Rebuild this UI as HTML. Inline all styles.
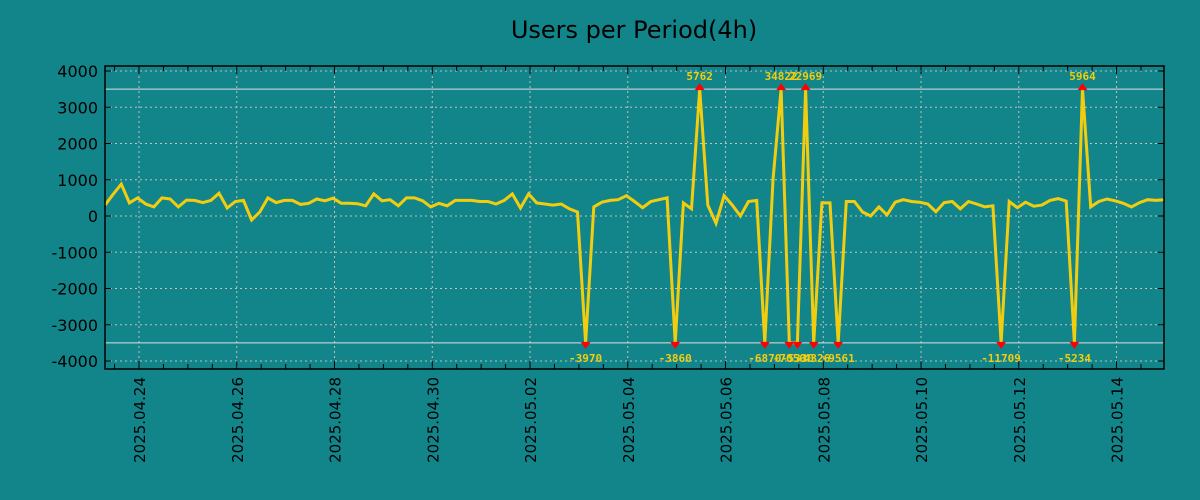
<!DOCTYPE html>
<html><head><meta charset="utf-8"><style>
html,body{margin:0;padding:0;background:#12858a;}
svg{display:block;font-family:"DejaVu Sans","Liberation Sans",sans-serif;}
</style></head><body>
<svg id="chart" width="1200" height="500">
<rect width="1200" height="500" fill="#12858a"/>
<text x="634" y="38" text-anchor="middle" font-size="24" fill="#000">Users per Period(4h)</text>
<g id="grid"></g><g id="series"></g><g id="axes"></g>
</svg>
<script>
const values=[300,600,880,360,500,330,250,500,470,250,440,430,370,430,630,220,400,430,-110,110,500,370,430,430,320,350,470,420,490,350,350,340,280,610,420,450,280,500,500,420,250,350,280,430,430,430,400,400,330,430,610,220,610,360,330,300,330,200,110,-3970,250,380,430,450,560,400,230,400,450,500,-3860,360,200,5762,300,-200,560,300,0,400,430,-6870,1000,34822,-7050,-5330,22969,-4326,360,360,-9561,400,400,110,0,250,30,380,450,400,380,330,120,370,400,200,400,330,250,280,-11709,400,230,380,270,300,430,480,410,-5234,5964,250,400,470,420,350,250,370,450,430,450];
const yTicks=[-4000,-3000,-2000,-1000,0,1000,2000,3000,4000];
const xTickLabels=["2025.04.24","2025.04.26","2025.04.28","2025.04.30","2025.05.02","2025.05.04","2025.05.06","2025.05.08","2025.05.10","2025.05.12","2025.05.14"];
const clipLimit=3500;
const startOffsetHours=16.7;
const periodHours=4;

const L=105,R=1164,T=66,B=369;
const NS="http://www.w3.org/2000/svg";
const step=(R-L)/(values.length-1);
function xScale(i){return L+i*step;}
function yScale(v){return 216-v*0.03625;}
function xOfHours(h){return xScale((h+startOffsetHours)/periodHours);}
function mk(tag,attrs,parent){const e=document.createElementNS(NS,tag);for(const k in attrs)e.setAttribute(k,attrs[k]);parent.appendChild(e);return e;}
const grid=document.getElementById('grid'),axes=document.getElementById('axes'),ser=document.getElementById('series');

yTicks.forEach(v=>{
  const y=yScale(v);
  const g=mk('line',{x1:L,x2:R,y1:y,y2:y,stroke:'#c0c0c0','stroke-dasharray':'2,3','stroke-width':1},grid);
  
  
  const t1=mk('line',{x1:L,x2:L+6,y1:y,y2:y,stroke:'#000'},axes);
  
  
  const t2=mk('line',{x1:R-6,x2:R,y1:y,y2:y,stroke:'#000'},axes);
  
  
  const lb=mk('text',{x:98,y:y+6,'text-anchor':'end','font-size':16,fill:'#000'},axes);
  lb.textContent=v;
  
  
});
for(let h=-12;h<=22*24;h+=12){
  const x=xOfHours(h); if(x<L||x>R)continue;
  const major=(h%48===0&&h>=0);
  const len=major?8:5;
  const a=mk('line',{x1:x,x2:x,y1:T,y2:T+len,stroke:'#000'},axes);
  
  
  const b=mk('line',{x1:x,x2:x,y1:B-len,y2:B,stroke:'#000'},axes);
  
  
}
xTickLabels.forEach((lab,k)=>{
  const x=xOfHours(k*48);
  const g=mk('line',{x1:x,x2:x,y1:T,y2:B,stroke:'#c0c0c0','stroke-dasharray':'2,3'},grid);
  
  
  const t=mk('text',{x:0,y:0,'font-size':15,fill:'#000','text-anchor':'end',transform:`translate(${x+6},377) rotate(-90)`},axes);
  t.textContent=lab;
  
  
});
[clipLimit,-clipLimit].forEach(v=>{
  const l=mk('line',{x1:L,x2:R,y1:yScale(v),y2:yScale(v),stroke:'#e0e0e0','stroke-width':1},grid);
  
  
});
const pts=values.map((v,i)=>xScale(i).toFixed(1)+','+yScale(Math.max(-clipLimit,Math.min(clipLimit,v))).toFixed(1)).join(' ');
const pl=mk('polyline',{points:pts,fill:'none',stroke:'#f2cd0f','stroke-width':3,'stroke-linejoin':'miter'},ser);


values.forEach((v,i)=>{
  if(Math.abs(v)<=clipLimit)return;
  const x=xScale(i),up=v>0,y=yScale(up?clipLimit:-clipLimit);
  const tri=mk('polygon',{points:up?`${x-5},${y+1} ${x+5},${y+1} ${x},${y-6}`:`${x-5},${y-1} ${x+5},${y-1} ${x},${y+6}`,fill:'#ff0000'},ser);
  
  
  const t=mk('text',{x:x,y:up?y-9:y+19,'text-anchor':'middle','font-size':11,'font-weight':'bold',fill:'#f2cd0f','font-family':'"DejaVu Sans Mono","Liberation Mono",monospace'},ser);
  t.textContent=v;
  
  
});
const fr=mk('rect',{x:L,y:T,width:R-L,height:B-T,fill:'none',stroke:'#000','stroke-width':1.5},axes);


</script>
</body></html>
